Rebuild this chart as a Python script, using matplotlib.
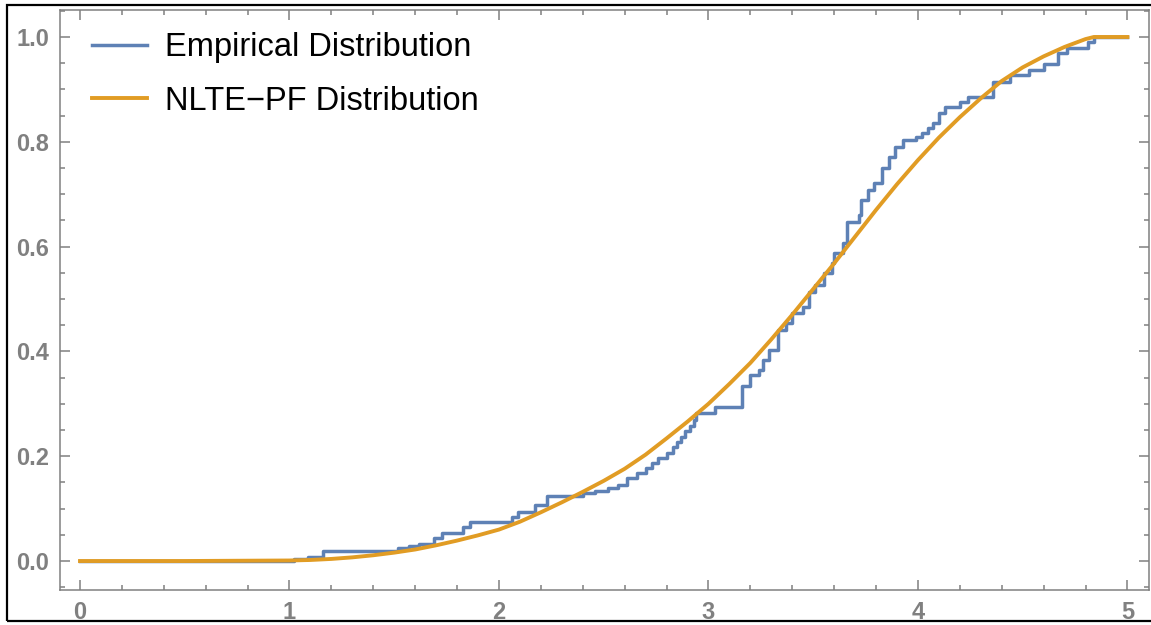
import matplotlib.pyplot as plt
from matplotlib.patches import Rectangle
from matplotlib.ticker import MultipleLocator

# Empirical CDF: jump positions and the value reached after each jump
ecdf_x = [0.00, 1.02, 1.09, 1.16, 1.52, 1.57, 1.62, 1.69, 1.73, 1.83, 1.86,
          2.06, 2.09, 2.17, 2.23, 2.40, 2.46, 2.52, 2.57, 2.61, 2.66, 2.70,
          2.73, 2.76, 2.80, 2.83, 2.85, 2.87, 2.89, 2.91, 2.93, 2.94, 3.03,
          3.16, 3.20, 3.24, 3.26, 3.29, 3.33, 3.37, 3.40, 3.45, 3.48, 3.51,
          3.55, 3.59, 3.60, 3.64, 3.66, 3.72, 3.73, 3.76, 3.79, 3.83, 3.86,
          3.89, 3.93, 3.99, 4.02, 4.05, 4.07, 4.10, 4.13, 4.20, 4.24, 4.36,
          4.44, 4.53, 4.60, 4.67, 4.71, 4.81, 4.84, 5.00]
ecdf_y = [0.000, 0.003, 0.007, 0.020, 0.024, 0.028, 0.033, 0.043, 0.053, 0.064, 0.074,
          0.084, 0.094, 0.106, 0.124, 0.129, 0.134, 0.140, 0.146, 0.158, 0.168, 0.178,
          0.188, 0.197, 0.207, 0.217, 0.227, 0.237, 0.248, 0.258, 0.270, 0.282, 0.294,
          0.334, 0.355, 0.365, 0.384, 0.403, 0.441, 0.454, 0.473, 0.485, 0.513, 0.527,
          0.550, 0.569, 0.588, 0.607, 0.647, 0.660, 0.689, 0.708, 0.721, 0.750, 0.771,
          0.790, 0.803, 0.810, 0.817, 0.827, 0.836, 0.855, 0.866, 0.876, 0.885, 0.914,
          0.927, 0.937, 0.948, 0.969, 0.979, 0.990, 1.000, 1.000]

# NLTE-PF fitted CDF
fit_x = [0.0, 0.5, 1.0, 1.1, 1.2, 1.3, 1.4, 1.5, 1.6, 1.7, 1.8, 1.9, 2.0,
         2.1, 2.2, 2.3, 2.4, 2.5, 2.6, 2.7, 2.8, 2.9, 3.0, 3.1, 3.2, 3.3,
         3.4, 3.5, 3.6, 3.7, 3.8, 3.9, 4.0, 4.1, 4.2, 4.3, 4.4, 4.5, 4.6,
         4.7, 4.8, 4.84, 5.0]
fit_y = [0.0, 0.0, 0.001, 0.002, 0.004, 0.007, 0.011, 0.016, 0.022, 0.030,
         0.039, 0.049, 0.060, 0.075, 0.093, 0.112, 0.132, 0.153, 0.176, 0.203,
         0.234, 0.266, 0.300, 0.338, 0.378, 0.423, 0.470, 0.519, 0.568, 0.619,
         0.670, 0.719, 0.765, 0.808, 0.847, 0.883, 0.916, 0.942, 0.963, 0.981,
         0.996, 1.0, 1.0]

blue = '#5E81B5'
orange = '#E19C24'
gray = '#808080'

plt.rcParams['font.family'] = ['Liberation Sans', 'DejaVu Sans']

fig = plt.figure(figsize=(11.51, 6.25), dpi=100)
ax = fig.add_axes([60 / 1151, 35 / 625, 1089 / 1151, 580 / 625])

ax.step(ecdf_x, ecdf_y, where='post', color=blue, lw=2.5,
        label='Empirical Distribution', zorder=2)
ax.plot(fit_x, fit_y, color=orange, lw=2.8,
        label='NLTE\u2212PF Distribution', zorder=3)

ax.set_xlim(-0.0955, 5.103)
ax.set_ylim(-0.0553, 1.0515)

ax.xaxis.set_major_locator(MultipleLocator(1))
ax.xaxis.set_minor_locator(MultipleLocator(0.2))
ax.yaxis.set_major_locator(MultipleLocator(0.2))
ax.yaxis.set_minor_locator(MultipleLocator(0.05))
ax.yaxis.set_major_formatter(plt.FuncFormatter(lambda v, p: f'{v:.1f}'))

ax.tick_params(which='both', direction='in', top=True, right=True,
               color=gray, width=1.1, labelcolor=gray)
ax.tick_params(which='major', length=7, labelsize=17, pad=8)
ax.tick_params(which='minor', length=3.6)
for lab in ax.get_xticklabels() + ax.get_yticklabels():
    lab.set_fontweight('bold')

for sp in ax.spines.values():
    sp.set_color(gray)
    sp.set_linewidth(1.1)

ax.legend(loc='upper left', bbox_to_anchor=(0.029, 0.962), frameon=False,
          fontsize=23.5, handlelength=1.7, handletextpad=0.55,
          labelspacing=0.7, borderaxespad=0, borderpad=0)

# outer frame around the whole figure
fig.patches.append(Rectangle((7 / 1151, 4 / 625), 1.2, 616 / 625,
                             transform=fig.transFigure, fill=False,
                             edgecolor='black', lw=1.6, zorder=10))

fig.savefig('out.png', dpi=100)
